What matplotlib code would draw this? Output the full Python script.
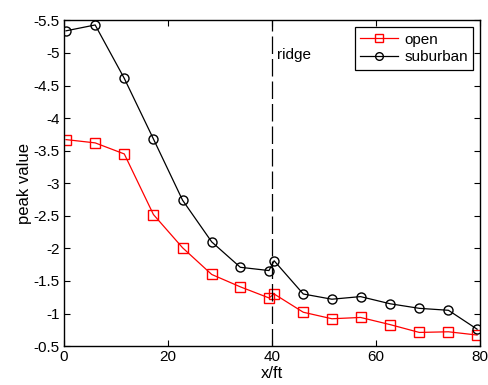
import matplotlib
matplotlib.use("Agg")
import matplotlib.pyplot as plt

plt.rcParams['font.family'] = ['Liberation Sans', 'DejaVu Sans']

x_sub = [0.4, 6.0, 11.6, 17.2, 22.8, 28.4, 33.9, 39.4, 40.4, 46.0, 51.5, 57.0, 62.7, 68.3, 73.9, 79.4]
y_sub = [-5.34, -5.43, -4.61, -3.68, -2.74, -2.10, -1.71, -1.66, -1.81, -1.30, -1.22, -1.26, -1.15, -1.08, -1.05, -0.76]
x_open = [0.4, 6.0, 11.6, 17.2, 22.8, 28.4, 33.9, 39.4, 40.4, 46.0, 51.5, 57.0, 62.7, 68.3, 73.9, 79.4]
y_open = [-3.67, -3.62, -3.45, -2.52, -2.01, -1.60, -1.41, -1.24, -1.30, -1.02, -0.92, -0.94, -0.83, -0.71, -0.72, -0.67]
ridge_x = 40
xticks = [0, 20, 40, 60, 80]
yticks = [-5.5, -5, -4.5, -4, -3.5, -3, -2.5, -2, -1.5, -1, -0.5]
yticklabels = ['-5.5', '-5', '-4.5', '-4', '-3.5', '-3', '-2.5', '-2', '-1.5', '-1', '-0.5']

fig = plt.figure(figsize=(4.88, 3.85), dpi=100)
ax = fig.add_axes([0.131, 0.101, 0.853, 0.846])

ax.plot(x_open, y_open, color='red', marker='s', markersize=6.5, markerfacecolor='none',
        markeredgecolor='red', linewidth=0.9, label='open')
ax.plot(x_sub, y_sub, color='black', marker='o', markersize=6.5, markerfacecolor='none',
        markeredgecolor='black', linewidth=0.9, label='suburban')
ax.axvline(ridge_x, color='black', linewidth=0.9, linestyle=(0, (14, 4)))
ax.text(ridge_x + 0.9, -4.97, 'ridge', fontsize=11, va='center', ha='left')

ax.set_xlim(0, 80)
ax.set_ylim(-0.5, -5.5)
ax.set_xticks(xticks)
ax.set_yticks(yticks)
ax.set_yticklabels(yticklabels)
ax.tick_params(direction='in', top=True, right=True, labelsize=11, length=4, width=0.8, pad=3)
for s in ax.spines.values():
    s.set_linewidth(1.0)

ax.set_xlabel('x/ft', fontsize=12, labelpad=1)
ax.set_ylabel('peak value', fontsize=12, labelpad=1)

leg = ax.legend(loc='upper right', fontsize=11, frameon=True, fancybox=False,
                edgecolor='black', framealpha=1, borderaxespad=0.45,
                handlelength=2.5, handletextpad=0.4, borderpad=0.35, labelspacing=0.25,
                markerscale=0.85)
leg.get_frame().set_linewidth(0.9)

fig.savefig('out.png', dpi=100)
